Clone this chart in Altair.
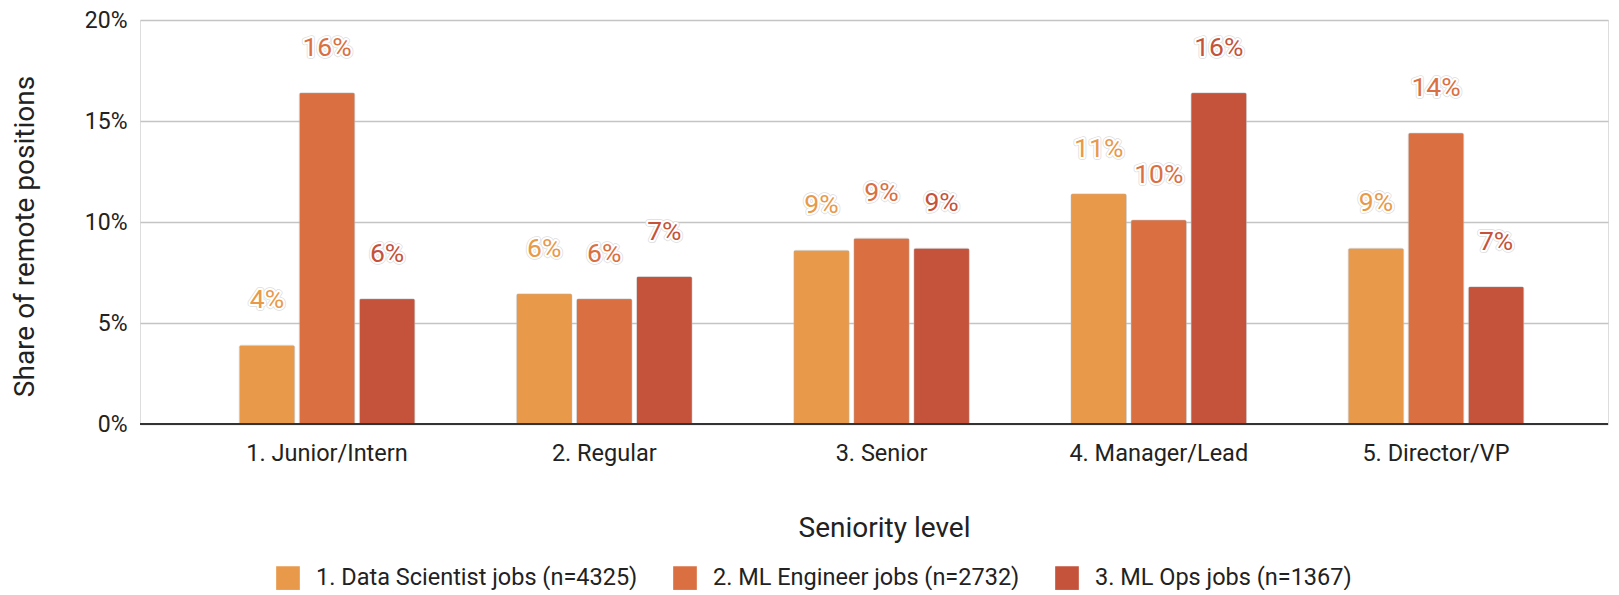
import altair as alt
import pandas as pd

levels = ["1. Junior/Intern", "2. Regular", "3. Senior", "4. Manager/Lead", "5. Director/VP"]
series = ["1. Data Scientist jobs (n=4325)", "2. ML Engineer jobs (n=2732)", "3. ML Ops jobs (n=1367)"]
data_scientist = [0.039, 0.0645, 0.086, 0.114, 0.087]
ml_engineer = [0.164, 0.062, 0.092, 0.101, 0.144]
ml_ops = [0.062, 0.073, 0.087, 0.164, 0.068]
colors = ["#E8994A", "#DA7042", "#C5533B"]

rows = []
for s, vals in zip(series, [data_scientist, ml_engineer, ml_ops]):
    for lv, v in zip(levels, vals):
        rows.append({"level": lv, "series": s, "value": v})
df = pd.DataFrame(rows)

FONT = "Roboto"

x_enc = alt.X("level:N", sort=levels,
              scale=alt.Scale(paddingInner=0.3664, paddingOuter=0.3307, align=0.541),
              axis=alt.Axis(title="Seniority level", labelAngle=0, ticks=False, domain=False,
                            labelFontSize=23.5, labelColor="#222222", labelPadding=17,
                            titleFontSize=28, titleFontWeight="normal", titleColor="#222222",
                            titlePadding=50, titleX=744, labelFont=FONT, titleFont=FONT))
xo_enc = alt.XOffset("series:N", sort=series, scale=alt.Scale(paddingInner=0.075, paddingOuter=0))
y_enc = alt.Y("value:Q", scale=alt.Scale(domain=[0, 0.2], nice=False),
              axis=alt.Axis(title="Share of remote positions", format=".0%",
                            values=[0, 0.05, 0.1, 0.15, 0.2], ticks=False, domain=False,
                            labelFontSize=23, labelColor="#222222", labelPadding=13,
                            gridColor="#c4c4c4", gridWidth=1.5,
                            titleFontSize=28, titleFontWeight="normal", titleColor="#222222",
                            titlePadding=45, titleY=216, labelFont=FONT, titleFont=FONT))
color_enc = alt.Color("series:N", sort=series,
                      scale=alt.Scale(domain=series, range=colors),
                      legend=alt.Legend(title=None, orient="none", direction="horizontal",
                                        legendX=136, legendY=546,
                                        symbolType="square", symbolSize=560,
                                        symbolStrokeWidth=0, symbolOpacity=1,
                                        labelFontSize=23.5, labelColor="#222222", labelFont=FONT,
                                        labelLimit=0, columnPadding=35, labelOffset=16))

base = alt.Chart(df).encode(x=x_enc, xOffset=xo_enc, y=y_enc)

bars = base.mark_bar(cornerRadiusTopLeft=2, cornerRadiusTopRight=2,
                     stroke="#bbbbbb", strokeWidth=0.4).encode(color=color_enc)

text_color = alt.Color("series:N", sort=series, scale=alt.Scale(domain=series, range=colors), legend=None)
text_val = alt.Text("value:Q", format=".0%")

halo_outer = base.mark_text(baseline="middle", dy=-45, fontSize=26.5, font=FONT,
                            stroke="#dddddd", strokeWidth=5.5, strokeJoin="round").encode(
    text=text_val, color=text_color)
halo = base.mark_text(baseline="middle", dy=-45, fontSize=26.5, font=FONT,
                      stroke="white", strokeWidth=4, strokeJoin="round").encode(
    text=text_val, color=text_color)
labels = base.mark_text(baseline="middle", dy=-45, fontSize=26.5, font=FONT).encode(
    text=text_val, color=text_color)

zero = alt.Chart(df).mark_rule(color="#333333", strokeWidth=2).encode(y=alt.datum(0))

chart = alt.layer(bars, zero, halo_outer, halo, labels).properties(
    width=1468, height=404,
    padding={"left": 3, "top": 1, "right": 0, "bottom": 0}
).configure_view(stroke=None).configure(font=FONT, background="white")

chart.save("out.html", embed_options={"renderer": "svg", "actions": False})
